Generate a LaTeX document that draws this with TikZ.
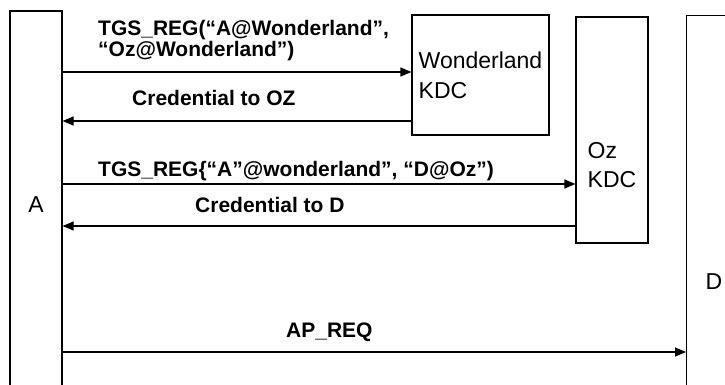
\documentclass[tikz,border=0pt]{standalone}
\usepackage{fontspec}
\setmainfont{Liberation Sans}
\usetikzlibrary{arrows.meta, positioning}

\begin{document}
\begin{tikzpicture}[
    x=1pt, y=-1pt,
    >={Triangle[length=11pt, width=9pt]},
    party/.style={
        rectangle,
        draw=black,
        line width=1.2pt,
        inner sep=0pt,
        font=\fontsize{23}{30}\selectfont,
        align=left
    },
    partytext/.style={
        inner sep=0pt,
        font=\fontsize{23}{29}\selectfont,
        align=left
    },
    msg/.style={
        ->,
        line width=1.2pt
    },
    msglabel/.style={
        inner sep=0pt,
        font=\fontsize{21}{21}\selectfont\bfseries,
        align=left
    }
]
\useasboundingbox (0,0) rectangle (725,385);
\clip (0,0) rectangle (725,385);

% Parties
\node[party, minimum width=52pt, minimum height=388pt] (A) at (36,205) {A};
\node[party, minimum width=137pt, minimum height=120pt] (wkdc) at (480.5,75) {Wonderland\\KDC};
\node[party, minimum width=72pt, minimum height=226pt] (ozkdc) at (612,130) {};
\node[partytext] (oztext) at (612,165) {Oz\\KDC};
\node[party, minimum width=56pt, minimum height=540pt, anchor=north west] (D) at (686,15) {};
\node[partytext] (dtext) at (714,282) {D};

% Message levels
\coordinate (m1) at (0,72);
\coordinate (m2) at (0,121);
\coordinate (m3) at (0,184);
\coordinate (m4) at (0,226);
\coordinate (m5) at (0,352);

% Messages
\draw[msg] (A.east |- m1) -- (wkdc.west |- m1);
\node[msglabel, anchor=north west] (tgs1) at (98,20) {TGS\_REG(“A@Wonderland”,\\“Oz@Wonderland”)};

\draw[msg] (wkdc.west |- m2) -- (A.east |- m2);
\node[msglabel, anchor=base west] (cred1) at (132,106) {Credential to OZ};

\draw[msg] (A.east |- m3) -- (ozkdc.west |- m3);
\node[msglabel, anchor=base west] (tgs2) at (98,176) {TGS\_REG\{“A”@wonderland”, “D@Oz”)};

\draw[msg] (ozkdc.west |- m4) -- (A.east |- m4);
\node[msglabel, anchor=base west] (cred2) at (195,212.7) {Credential to D};

\draw[msg] (A.east |- m5) -- (D.west |- m5);
\node[msglabel, anchor=base west] (apreq) at (286,337) {AP\_REQ};

\end{tikzpicture}
\end{document}
